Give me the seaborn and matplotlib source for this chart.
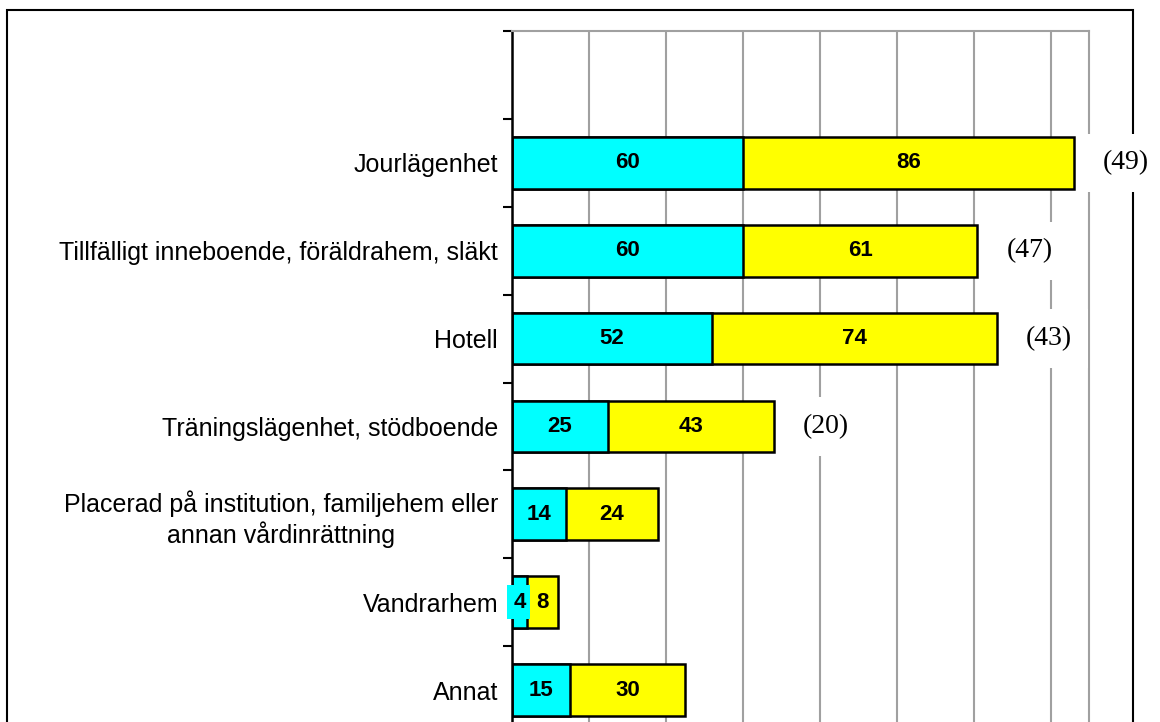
import matplotlib
matplotlib.use("Agg")
import matplotlib.pyplot as plt
from matplotlib.patches import Rectangle
import seaborn as sns
import pandas as pd
import numpy as np

categories = ["Jourlägenhet",
              "Tillfälligt inneboende, föräldrahem, släkt",
              "Hotell",
              "Träningslägenhet, stödboende",
              "Placerad på institution, familjehem eller\nannan vårdinrättning",
              "Vandrarhem",
              "Annat"]
series_a = [60, 60, 52, 25, 14, 4, 15]      # cyan
series_b = [86, 61, 74, 43, 24, 8, 30]      # yellow
counts = ["(49)", "(47)", "(43)", "(20)", "", "", ""]

sns.set_style("white")
plt.rcParams["font.family"] = ["Liberation Sans", "DejaVu Sans"]
plt.rcParams["text.color"] = "black"
plt.rcParams["axes.labelcolor"] = "black"
plt.rcParams["xtick.color"] = "black"
plt.rcParams["ytick.color"] = "black"

df = pd.DataFrame({"cat": categories, "a": series_a, "b": series_b})
df["total"] = df["a"] + df["b"]
order = [" "] + categories

fig = plt.figure(figsize=(11.6, 7.22), dpi=100)
fig.patch.set_facecolor("white")

# outer frame
fig.patches.append(Rectangle((7 / 1160, -0.2), (1133 - 7) / 1160, 1 - 10 / 722 + 0.2,
                             transform=fig.transFigure, fill=False, edgecolor="black",
                             linewidth=1.5, zorder=-1))

ax = fig.add_axes([512 / 1160, 1 - 734 / 722, 577 / 1160, 703 / 722])

cyan = "#00FFFF"
yellow = "#FFFF00"
sns.barplot(data=df, y="cat", x="total", order=order, orient="h", color=yellow,
            saturation=1, width=0.59, edgecolor="black", linewidth=1.8, ax=ax, errorbar=None)
sns.barplot(data=df, y="cat", x="a", order=order, orient="h", color=cyan,
            saturation=1, width=0.59, edgecolor="black", linewidth=1.8, ax=ax, errorbar=None)

ax.set_xlim(0, 150)
ax.set_ylim(7.5, -0.5)
ax.set_xlabel("")
ax.set_ylabel("")
ax.set_xticks(np.arange(0, 150, 20))
ax.set_xticklabels([])
ax.tick_params(axis="x", length=0)
ax.set_axisbelow(True)
ax.grid(axis="x", color="#a0a0a0", linewidth=1.5)
ax.grid(axis="y", visible=False)

ax.set_yticks(range(len(order)))
ax.set_yticklabels(order, fontsize=18, multialignment="center", color="black")
ax.tick_params(axis="y", which="major", length=0, pad=10)
ax.set_yticks(np.arange(-0.5, 8.0, 1.0), minor=True)
ax.tick_params(axis="y", which="minor", length=6.5, width=1.5, color="black", direction="out", left=True)

for s in ["top", "right"]:
    ax.spines[s].set_color("#a0a0a0")
    ax.spines[s].set_linewidth(1.5)
ax.spines["left"].set_color("black")
ax.spines["left"].set_linewidth(1.8)
ax.spines["bottom"].set_visible(False)

for i, (a, b, t, c) in enumerate(zip(series_a, series_b, df["total"], counts)):
    y = i + 1
    ax.text(a / 2, y, str(a), ha="center", va="center", fontsize=16, fontweight="bold",
            color="black",
            bbox=dict(boxstyle="square,pad=0.3", facecolor=cyan, edgecolor="none"), zorder=4)
    ax.text(a + b / 2, y, str(b), ha="center", va="center", fontsize=16, fontweight="bold",
            color="black",
            bbox=dict(boxstyle="square,pad=0.3", facecolor=yellow, edgecolor="none"), zorder=4)
    if c:
        ax.text(t + 7.5, y, c, ha="left", va="center", fontsize=20, color="black",
                family=["Liberation Serif", "DejaVu Serif"], clip_on=False,
                bbox=dict(boxstyle="square,pad=0.6", facecolor="white", edgecolor="none"), zorder=5)

fig.savefig("out.png", dpi=100, facecolor="white")
